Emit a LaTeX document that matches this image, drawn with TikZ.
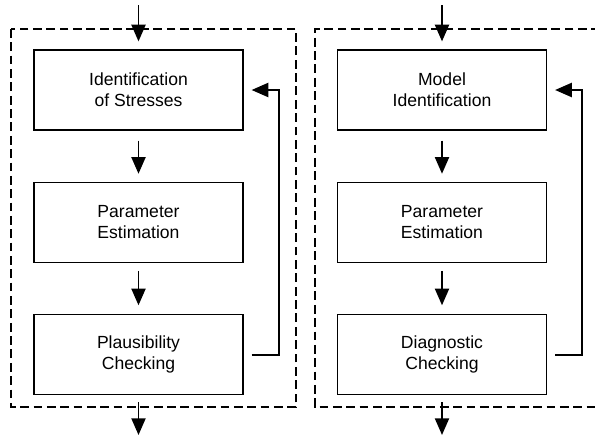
\documentclass[tikz,border=0pt]{standalone}
\usepackage{fontspec}
\setmainfont{Liberation Sans}
\usepackage{tikz}
\usetikzlibrary{positioning,arrows.meta}

\tikzset{
  stage/.style={draw=black,line width=0.8pt,minimum width=4.18cm,minimum height=1.6cm,
    align=center,font=\normalsize,inner sep=0pt},
  flow/.style={black,line width=1.1pt,-{Triangle[length=9.5pt,width=8pt]}},
  frame/.style={black,line width=0.6pt,dash pattern=on 5pt off 2.6pt}
}

\begin{document}
\begin{tikzpicture}[x=0.02cm,y=-0.02cm]
\useasboundingbox (0,0) rectangle (595,436);

% dashed frames
\draw [frame] (11,29) rectangle (296,407);
\draw [frame] (600,29) -- (315,29) -- (315,407) -- (600,407);

% left chain
\node [stage] (ids) at (138.5,90) {Identification\\of Stresses};
\node [stage,below=1.02cm of ids] (estL) {Parameter\\Estimation};
\node [stage,below=1.02cm of estL] (plaus) {Plausibility\\Checking};

\coordinate (inL) at (138.5,5);
\coordinate (outL) at (138.5,435);

\draw [flow,shorten >=4.5pt] (inL)--(ids);
\draw [flow,shorten <=5.7pt,shorten >=4.5pt] (ids)--(estL);
\draw [flow,shorten <=4.5pt,shorten >=5pt] (estL)--(plaus);
\draw [flow,shorten <=4pt] (plaus)--(outL);
\draw [flow] ([xshift=4.5pt]plaus.east)--++(27,0)|-([xshift=4.5pt]ids.east);

% right chain
\node [stage] (modid) at (442,90) {Model\\Identification};
\node [stage,below=1.02cm of modid] (estR) {Parameter\\Estimation};
\node [stage,below=1.02cm of estR] (diag) {Diagnostic\\Checking};

\coordinate (inR) at (442,5);
\coordinate (outR) at (442,435);

\draw [flow,shorten >=4.5pt] (inR)--(modid);
\draw [flow,shorten <=5.7pt,shorten >=4.5pt] (modid)--(estR);
\draw [flow,shorten <=4.5pt,shorten >=5pt] (estR)--(diag);
\draw [flow,shorten <=4pt] (diag)--(outR);
\draw [flow] ([xshift=4.5pt]diag.east)--++(27,0)|-([xshift=4.5pt]modid.east);
\end{tikzpicture}
\end{document}
